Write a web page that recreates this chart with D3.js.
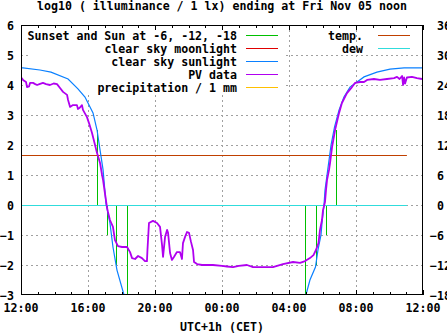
<!DOCTYPE html>
<html><head><meta charset="utf-8">
<script src="https://cdn.jsdelivr.net/npm/d3@7"></script>
<style>
body{margin:0;background:#fff}
text{font-family:"DejaVu Sans Mono",monospace;font-weight:bold;font-size:11.6px;fill:#000}
</style>
</head><body><svg id="c" width="447" height="335"></svg>
<script>
// ---------- data ----------
const titleText = "log10 ( illuminance / 1 lx) ending at Fri Nov 05 noon";
const xLabel = "UTC+1h (CET)";
const yTicks = [-3, -2, -1, 0, 1, 2, 3, 4, 5, 6];
const y2Ticks = [-18, -12, -6, 0, 6, 12, 18, 24, 30, 36];
const legendLeft = ["Sunset and Sun at -6, -12, -18", "clear sky moonlight", "clear sky sunlight", "PV data", "precipitation / 1 mm"];
const legendRight = ["temp.", "dew"];
// hours after Thu Nov 04 12:00
const sunHours   = [4.54, 5.13, 5.67, 6.33, 16.96, 17.61, 18.21, 18.81];
const sunHeights = [2.5, -1, -2, -3, -3, -2, -1, 2.5];
const sunlight = [
 [0.00,4.57],[0.12,4.57],[1.13,4.50],[1.79,4.43],[2.81,4.20],[3.40,3.87],[3.82,3.60],[4.30,3.07],
 [4.54,2.50],[4.72,1.83],[4.90,1.17],[5.07,0.07],[5.31,-0.60],[5.49,-1.40],[5.73,-2.17],[6.15,-3.00],
 [17.01,-3.00],[17.25,-2.50],[17.58,-2.07],[17.73,-1.50],[17.91,-1.00],[17.97,-0.60],[18.09,0.00],
 [18.15,0.50],[18.27,1.00],[18.51,2.00],[18.72,2.60],[18.99,3.17],[19.28,3.60],[19.64,3.93],
 [20.06,4.10],[20.48,4.27],[21.25,4.43],[22.03,4.53],[22.87,4.57],[23.94,4.57]
];
const pv = [
 [0.00,4.26],[0.12,4.17],[0.30,4.10],[0.36,3.93],[0.48,3.95],[0.54,4.07],[0.72,4.07],[0.85,4.03],
 [0.96,4.00],[1.10,4.03],[1.31,4.07],[1.50,4.03],[1.73,4.00],[1.95,4.05],[2.15,4.03],[2.33,3.90],
 [2.51,3.77],[2.75,3.67],[2.81,3.50],[2.93,3.27],[3.10,3.33],[3.34,3.33],[3.40,3.20],[3.52,3.25],
 [3.64,3.33],[3.70,3.17],[3.94,2.93],[4.06,2.73],[4.24,2.40],[4.42,2.00],[4.54,1.73],[4.72,1.40],
 [4.84,1.00],[4.90,0.83],[5.01,0.40],[5.13,-0.07],[5.19,-0.23],[5.31,-0.50],[5.49,-0.73],[5.61,-1.17],
 [5.79,-1.37],[6.03,-1.40],[6.33,-1.40],[6.51,-1.57],[6.63,-1.77],[6.81,-1.80],[6.99,-1.70],[7.22,-1.77],
 [7.40,-1.87],[7.52,-1.87],[7.55,-1.50],[7.64,-0.60],[7.88,-0.53],[8.12,-0.60],[8.30,-0.73],[8.42,-1.33],
 [8.48,-1.73],[8.60,-1.07],[8.72,-0.83],[8.78,-0.93],[8.90,-1.60],[9.01,-1.83],[9.13,-1.73],[9.31,-1.57],
 [9.49,-1.57],[9.61,-1.80],[9.67,-1.27],[9.79,-1.07],[9.91,-0.90],[10.03,-0.93],[10.15,-1.23],[10.27,-1.50],
 [10.33,-1.90],[10.51,-1.97],[10.81,-2.00],[11.10,-2.00],[11.46,-2.00],[12.00,-2.03],[12.30,-2.05],
 [12.66,-2.07],[13.00,-2.03],[13.49,-2.00],[13.85,-2.07],[14.40,-2.07],[15.04,-2.07],[15.64,-1.97],
 [16.24,-1.90],[16.66,-1.93],[16.96,-1.87],[17.25,-1.77],[17.46,-1.67],[17.61,-1.50],[17.76,-1.27],
 [17.85,-0.83],[17.97,-0.50],[18.03,-0.17],[18.15,0.10],[18.21,0.50],[18.27,0.83],[18.39,1.17],
 [18.45,1.40],[18.57,1.93],[18.75,2.50],[18.99,3.07],[19.16,3.40],[19.46,3.73],[19.76,3.93],[19.94,4.07],
 [20.24,4.10],[20.48,4.10],[20.66,4.17],[21.07,4.20],[21.43,4.17],[21.85,4.20],[22.27,4.23],[22.45,4.27],
 [22.60,4.20],[22.75,4.30],[22.81,4.00],[22.87,4.25],[22.93,4.05],[23.04,4.25],[23.34,4.27],[23.64,4.23],
 [23.94,4.20]
];
const tempHours = [0, 23.04];
const tempValues = [10, 10];
const dewValues = [0, 0];

// ---------- styles ----------
const colSun = "#00c000", colMoon = "#e00000", colSunlight = "#0a80ff", colPV = "#b000f0",
      colPrec = "#ffc000", colTemp = "#c04000", colDew = "#30dcdc", colGrid = "#a0a0a0";

const svg = d3.select("#c");
const L = 21, R = 423, T = 25, B = 295;
const base = Date.UTC(2021, 10, 4, 12);
const toDate = h => new Date(base + h * 3600e3);
const x = d3.scaleUtc().domain([toDate(0), toDate(24)]).range([L, R]);
const y = d3.scaleLinear().domain([-3, 6]).range([B, T]);
const y2 = d3.scaleLinear().domain([-18, 36]).range([B, T]);

svg.append("defs").append("clipPath").attr("id","clip")
  .append("rect").attr("x",L).attr("y",T).attr("width",R-L).attr("height",B-T);

// grid
const majors = x.ticks(d3.utcHour.every(4));
const g = svg.append("g").attr("stroke", colGrid).attr("stroke-width",1).attr("stroke-dasharray","2,3");
majors.filter(d => +d > +toDate(0) && +d < +toDate(24)).forEach(d => {
  g.append("line").attr("x1", Math.round(x(d))+0.5).attr("x2", Math.round(x(d))+0.5).attr("y1", T).attr("y2", B);
});
yTicks.filter(v => v > -3 && v < 6).forEach(v => {
  g.append("line").attr("x1", L).attr("x2", R).attr("y1", Math.round(y(v))+0.5).attr("y2", Math.round(y(v))+0.5);
});

// opaque key box (left key)
svg.append("rect").attr("x", 28).attr("y", 26).attr("width", 256).attr("height", 67).attr("fill", "#fff");

// data
const plot = svg.append("g").attr("clip-path","url(#clip)");
const line = d3.line().x(d => x(toDate(d[0]))).y(d => y(d[1]));
// sun lines
sunHours.forEach((h, i) => {
  const xx = Math.round(x(toDate(h))) + 0.5;
  plot.append("line").attr("x1", xx).attr("x2", xx).attr("y1", y(0)).attr("y2", y(sunHeights[i]))
    .attr("stroke", colSun).attr("stroke-width", 1);
});
// temp & dew
plot.append("path").attr("d", d3.line().x(d => x(toDate(d[0]))).y(d => Math.round(y2(d[1]))+0.5)(tempHours.map((h,i)=>[h,tempValues[i]])))
  .attr("fill","none").attr("stroke", colTemp).attr("stroke-width",1);
plot.append("path").attr("d", d3.line().x(d => x(toDate(d[0]))).y(d => Math.round(y2(d[1]))+0.5)(tempHours.map((h,i)=>[h,dewValues[i]])))
  .attr("fill","none").attr("stroke", colDew).attr("stroke-width",1);
// sunlight (two segments)
const split = sunlight.findIndex(d => d[0] > 12);
[sunlight.slice(0, split), sunlight.slice(split)].forEach(seg => {
  plot.append("path").attr("d", line(seg)).attr("fill","none").attr("stroke", colSunlight).attr("stroke-width",1.2);
});
// PV
plot.append("path").attr("d", line(pv)).attr("fill","none").attr("stroke", colPV).attr("stroke-width",1.8)
  .attr("stroke-linejoin","round");

// border
svg.append("rect").attr("x", L+0.5).attr("y", T+0.5).attr("width", R-L-1).attr("height", B-T-1)
  .attr("fill","none").attr("stroke","#000").attr("stroke-width",1);

// x ticks (bottom & top, hourly minor, 4h major)
const hours = x.ticks(d3.utcHour.every(1));
const tk = svg.append("g").attr("stroke","#000").attr("stroke-width",1);
hours.forEach(d => {
  const xx = Math.round(x(d)) + 0.5;
  const major = d.getUTCHours() % 4 === 0;
  const len = major ? 5 : 3;
  tk.append("line").attr("x1",xx).attr("x2",xx).attr("y1",B).attr("y2",B-len);
  tk.append("line").attr("x1",xx).attr("x2",xx).attr("y1",T).attr("y2",T+len);
});
const fmt = d3.utcFormat("%H:%M");
majors.forEach(d => {
  svg.append("text").attr("x", x(d)).attr("y", 312).attr("text-anchor","middle").text(fmt(d));
});
// y labels
yTicks.forEach(v => {
  svg.append("text").attr("x", 14).attr("y", y(v)+4.5).attr("text-anchor","end").text(d3.format("d")(v));
});
y2Ticks.forEach(v => {
  svg.append("text").attr("x", v < 0 ? 430 : 437).attr("y", y2(v)+4.5).attr("text-anchor","start").text(d3.format("d")(v));
});
// title & xlabel
svg.append("text").attr("x", 222).attr("y", 10).attr("text-anchor","middle").text(titleText);
svg.append("text").attr("x", 222).attr("y", 331).attr("text-anchor","middle").text(xLabel);

// keys
const leftCols = [colSun, colMoon, colSunlight, colPV, colPrec];
legendLeft.forEach((t, i) => {
  const yy = 35 + i * 13;
  svg.append("text").attr("x", 237).attr("y", yy+4.5).attr("text-anchor","end").text(t);
  svg.append("line").attr("x1",246).attr("x2",278).attr("y1",yy+0.5).attr("y2",yy+0.5).attr("stroke",leftCols[i]).attr("stroke-width",1);
});
const rightCols = [colTemp, colDew];
legendRight.forEach((t, i) => {
  const yy = 35 + i * 13;
  svg.append("text").attr("x", 363).attr("y", yy+4.5).attr("text-anchor","end").text(t);
  svg.append("line").attr("x1",378).attr("x2",410).attr("y1",yy+0.5).attr("y2",yy+0.5).attr("stroke",rightCols[i]).attr("stroke-width",1);
});
</script>
</body></html>
